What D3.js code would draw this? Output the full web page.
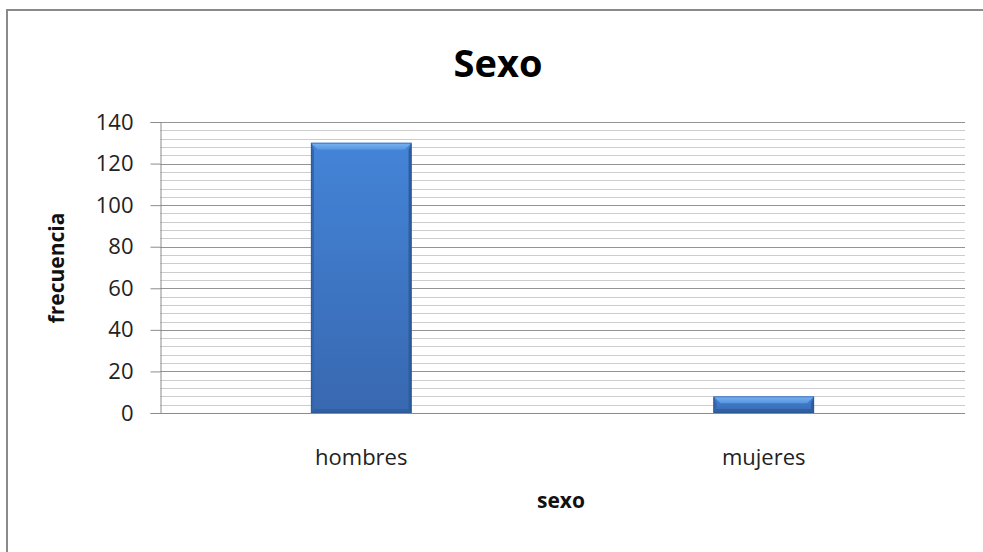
<!DOCTYPE html>
<html><head><meta charset="utf-8">
<script src="https://cdn.jsdelivr.net/npm/d3@7"></script>
<style>body{margin:0;background:#fff}svg{display:block}</style>
</head><body>
<svg id="c" width="983" height="552"></svg>
<script>
const categories = ["hombres", "mujeres"];
const values = [130, 8];
const yTicks = [0, 20, 40, 60, 80, 100, 120, 140];
const title = "Sexo";
const xTitle = "sexo";
const yTitle = "frecuencia";

const svg = d3.select("#c");
const font = "'Open Sans', sans-serif";
const m = {l:160, r:965, t:122, b:413};

svg.append("rect").attr("x",7).attr("y",10).attr("width",1000).attr("height",600)
  .attr("fill","#fff").attr("stroke","#8a8a8a").attr("stroke-width",2);

const x = d3.scaleBand().domain(categories).range([m.l, m.r]).paddingInner(0.75).paddingOuter(0.375);
const y = d3.scaleLinear().domain([0,140]).range([m.b, m.t]);

const defs = svg.append("defs");
const g1 = defs.append("linearGradient").attr("id","body").attr("x1",0).attr("y1",0).attr("x2",0).attr("y2",1);
g1.append("stop").attr("offset","0%").attr("stop-color","#4484d8");
g1.append("stop").attr("offset","100%").attr("stop-color","#3868b0");
const g2 = defs.append("linearGradient").attr("id","topb").attr("x1",0).attr("y1",0).attr("x2",0).attr("y2",1);
g2.append("stop").attr("offset","0%").attr("stop-color","#7db4f0");
g2.append("stop").attr("offset","100%").attr("stop-color","#5594e0");

// minor grid
const minor = d3.range(0, 141, 4);
svg.append("g").selectAll("line").data(minor.filter(v=>v%20!==0)).join("line")
  .attr("x1",m.l).attr("x2",m.r).attr("y1",d=>Math.round(y(d))+0.5).attr("y2",d=>Math.round(y(d))+0.5)
  .attr("stroke","#cdcdcd").attr("stroke-width",1);
// major grid
svg.append("g").selectAll("line").data(yTicks.filter(v=>v>0)).join("line")
  .attr("x1",m.l).attr("x2",m.r).attr("y1",d=>Math.round(y(d))+0.5).attr("y2",d=>Math.round(y(d))+0.5)
  .attr("stroke","#939393").attr("stroke-width",1);

// y axis
const ya = svg.append("g").attr("transform",`translate(${m.l+0.5},0)`)
  .call(d3.axisLeft(y).tickValues(yTicks).tickSize(10).tickPadding(17));
ya.select(".domain").attr("stroke","#8c8c8c");
ya.selectAll(".tick line").attr("stroke","#8c8c8c");
ya.selectAll("text").attr("font-family",font).attr("font-size",22).attr("fill","#222");

// x axis
const xa = svg.append("g").attr("transform",`translate(0,${m.b+0.5})`)
  .call(d3.axisBottom(x).tickSize(0).tickPadding(36));
xa.select(".domain").attr("stroke","#8c8c8c").attr("d",`M${m.l},0H${m.r}`);
xa.selectAll("text").attr("font-family",font).attr("font-size",22).attr("fill","#222");

// bars with bevel
const bev = 7;
const bars = svg.append("g").selectAll("g").data(categories.map((c,i)=>({c,v:values[i]}))).join("g");
bars.each(function(d){
  const g = d3.select(this);
  const x0 = x(d.c), w = x.bandwidth(), y0 = y(d.v), y1 = y(0), h = y1 - y0;
  const b = Math.min(bev, h/2), s = Math.min(3, b), bb = Math.min(4, h/2);
  g.append("rect").attr("x",x0).attr("y",y0).attr("width",w).attr("height",h).attr("fill","url(#body)");
  g.append("polygon").attr("points",`${x0},${y1} ${x0+s},${y1-bb} ${x0+w-s},${y1-bb} ${x0+w},${y1}`).attr("fill","#30609f");
  g.append("polygon").attr("points",`${x0},${y0} ${x0+s},${y0+b} ${x0+s},${y1-bb} ${x0},${y1}`).attr("fill","#3466ab");
  g.append("polygon").attr("points",`${x0+w},${y0} ${x0+w-s},${y0+b} ${x0+w-s},${y1-bb} ${x0+w},${y1}`).attr("fill","#2f5c9c");
  g.append("polygon").attr("points",`${x0},${y0} ${x0+w},${y0} ${x0+w-b},${y0+b} ${x0+b},${y0+b}`).attr("fill","url(#topb)");
  g.append("rect").attr("x",x0+0.5).attr("y",y0+0.5).attr("width",w-1).attr("height",h-1).attr("fill","none").attr("stroke","#2a5590").attr("stroke-width",1).attr("opacity",0.6);
});

svg.append("text").attr("x",498).attr("y",77).attr("text-anchor","middle")
  .attr("font-family",font).attr("font-weight","bold").attr("font-size",38).attr("fill","#000").text(title);
svg.append("text").attr("x",561).attr("y",508).attr("text-anchor","middle")
  .attr("font-family",font).attr("font-weight","bold").attr("font-size",21).attr("fill","#111").text(xTitle);
svg.append("text").attr("transform",`translate(64,268) rotate(-90)`).attr("text-anchor","middle")
  .attr("font-family",font).attr("font-weight","bold").attr("font-size",21).attr("fill","#111").text(yTitle);
</script>
</body></html>
